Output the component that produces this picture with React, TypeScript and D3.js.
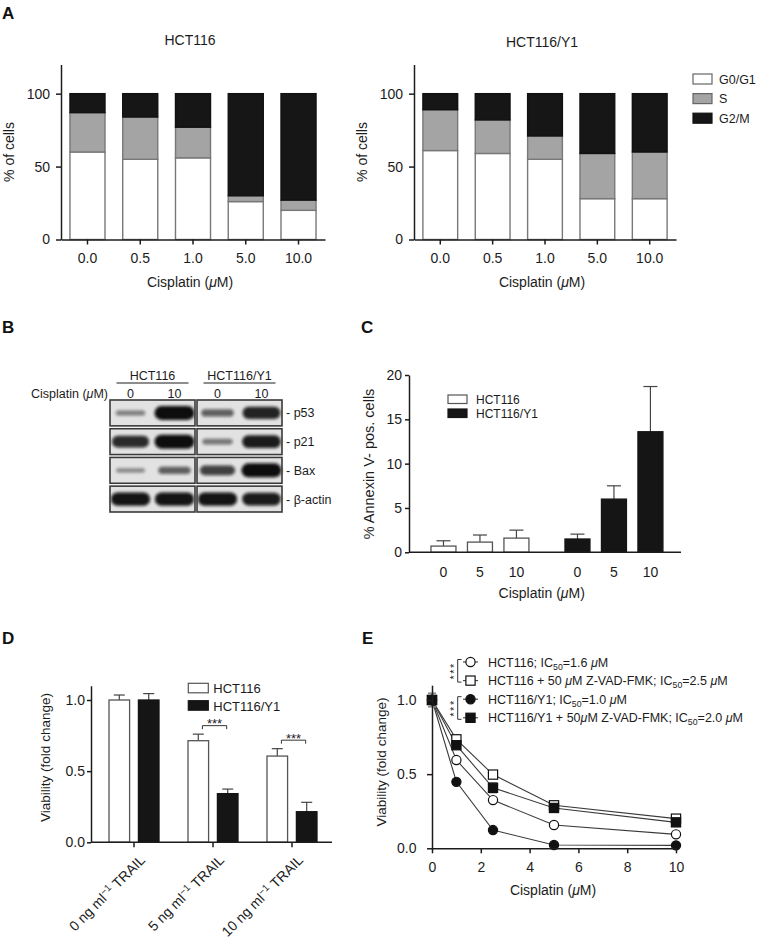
import { useEffect, useRef } from "react"
import * as d3 from "d3"

const FONT = "'Liberation Sans', Arial, Helvetica, sans-serif"
const INK = "#1c1c1c"

// A: cell cycle distribution (% of cells)
const cycleDoses = ["0.0", "0.5", "1.0", "5.0", "10.0"]
const cyclePhases = ["G0/G1", "S", "G2/M"]
const phaseColors = ["#ffffff", "#a4a4a4", "#161616"]
const hctG0 = [60, 55, 56, 26, 20]
const hctS = [27, 29, 21, 4, 7]
const hctG2 = [13, 16, 23, 70, 73]
const y1G0 = [61, 59, 55, 28, 28]
const y1S = [28, 23, 16, 31, 32]
const y1G2 = [11, 18, 29, 41, 40]
const cycleTicks = [0, 50, 100]

// B: western blot
const blotLines = ["HCT116", "HCT116/Y1"]
const blotDoses = ["0", "10"]
const blotProteins = ["p53", "p21", "Bax", "β-actin"]
// band strength per lane: HCT116 0, HCT116 10, Y1 0, Y1 10
const bandP53 = [0.25, 1, 0.45, 0.85]
const bandP21 = [0.8, 1, 0.3, 0.9]
const bandBax = [0.2, 0.45, 0.65, 1]
const bandActin = [0.95, 0.95, 0.95, 0.9]

// C: annexin V positive cells
const annexinDoses = ["0", "5", "10"]
const annexinHct = [0.7, 1.15, 1.6]
const annexinHctErr = [0.6, 0.8, 0.9]
const annexinY1 = [1.5, 6.0, 13.6]
const annexinY1Err = [0.55, 1.5, 5.1]
const annexinTicks = [0, 5, 10, 15, 20]

// D: TRAIL viability
const trailDoses = ["0", "5", "10"]
const trailHct = [1.0, 0.714, 0.606]
const trailHctErr = [0.035, 0.046, 0.052]
const trailY1 = [1.0, 0.342, 0.215]
const trailY1Err = [0.045, 0.032, 0.066]
const trailSig = ["", "***", "***"]

// E: cisplatin dose response
const cisDoses = [0, 1, 2.5, 5, 10]
const respHct = [1.0, 0.595, 0.325, 0.157, 0.094]
const respHctErr = [0.045, 0.02, 0.015, 0.01, 0.01]
const respHctZ = [1.0, 0.735, 0.497, 0.29, 0.2]
const respHctZErr = [0.045, 0.02, 0.02, 0.01, 0.01]
const respY1 = [1.0, 0.448, 0.123, 0.022, 0.02]
const respY1Err = [0.045, 0.015, 0.01, 0.005, 0.005]
const respY1Z = [1.0, 0.695, 0.408, 0.272, 0.175]
const respY1ZErr = [0.045, 0.02, 0.035, 0.015, 0.01]

type Seg = { t: string; k?: "i" | "sub" | "sup" }

const cisplatinTitle: Seg[] = [{ t: "Cisplatin (" }, { t: "μ", k: "i" }, { t: "M)" }]

const respNames: Seg[][] = [
  [{ t: "HCT116; IC" }, { t: "50", k: "sub" }, { t: "=1.6 " }, { t: "μ", k: "i" }, { t: "M" }],
  [{ t: "HCT116 + 50 " }, { t: "μ", k: "i" }, { t: "M Z-VAD-FMK; IC" }, { t: "50", k: "sub" }, { t: "=2.5 " }, { t: "μ", k: "i" }, { t: "M" }],
  [{ t: "HCT116/Y1; IC" }, { t: "50", k: "sub" }, { t: "=1.0 " }, { t: "μ", k: "i" }, { t: "M" }],
  [{ t: "HCT116/Y1 + 50" }, { t: "μ", k: "i" }, { t: "M Z-VAD-FMK; IC" }, { t: "50", k: "sub" }, { t: "=2.0 " }, { t: "μ", k: "i" }, { t: "M" }],
]

function rich(text: any, segs: Seg[]) {
  let shift = 0
  segs.forEach((s) => {
    const ts = text.append("tspan").text(s.t)
    const target = s.k === "sub" ? 3 : s.k === "sup" ? -5 : 0
    if (target !== shift) ts.attr("dy", target - shift)
    shift = target
    if (s.k === "i") ts.attr("font-style", "italic")
    if (s.k === "sub" || s.k === "sup") ts.attr("font-size", "0.7em")
  })
}

function styleAxis(g: any, size: number) {
  g.attr("font-family", FONT).attr("font-size", size).attr("color", INK)
  g.selectAll("path.domain").attr("stroke-width", 1.5)
  g.selectAll(".tick line").attr("stroke-width", 1.5)
}

export default function App() {
  const svgRef = useRef<SVGSVGElement>(null)

  useEffect(() => {
    if (!svgRef.current) return
    const svg = d3.select(svgRef.current)
    svg.selectAll("*").remove()
    svg.attr("font-family", FONT)

    const text = (x: number, y: number, s: string, size: number, anchor = "start") =>
      svg.append("text").attr("x", x).attr("y", y).attr("font-size", size)
        .attr("text-anchor", anchor).attr("fill", INK).text(s)

    const richText = (x: number, y: number, segs: Seg[], size: number, anchor = "start") => {
      const t = svg.append("text").attr("x", x).attr("y", y).attr("font-size", size)
        .attr("text-anchor", anchor).attr("fill", INK)
      rich(t, segs)
      return t
    }

    const yLabel = (cx: number, cy: number, segs: Seg[], size: number) => {
      const t = svg.append("text").attr("transform", `translate(${cx},${cy}) rotate(-90)`)
        .attr("text-anchor", "middle").attr("dy", "0.35em").attr("font-size", size).attr("fill", INK)
      rich(t, segs)
    }

    const panelLetter = (x: number, y: number, s: string) =>
      text(x, y, s, 17).attr("font-weight", "bold").attr("fill", "#111")

    // ---------- A ----------
    panelLetter(2, 18.5, "A")
    const cyclePanel = (left: number, right: number, title: string, titleY: number,
                        g0: number[], s: number[], g2: number[], yLabelX: number) => {
      const y = d3.scaleLinear().domain([0, 120]).range([239.5, 64.5])
      const x = d3.scaleBand<string>().domain(cycleDoses).range([left, right])
        .paddingInner(0.336).paddingOuter(0.17)
      const rows = cycleDoses.map((d, i) => ({ dose: d, "G0/G1": g0[i], S: s[i], "G2/M": g2[i] }))
      const series = d3.stack<any>().keys(cyclePhases)(rows)
      series.forEach((ser, k) => {
        svg.append("g").selectAll("rect").data(ser).join("rect")
          .attr("x", (d: any) => x(d.data.dose)!)
          .attr("width", x.bandwidth())
          .attr("y", (d: any) => y(d[1]))
          .attr("height", (d: any) => y(d[0]) - y(d[1]))
          .attr("fill", phaseColors[k])
          .attr("stroke", k === 2 ? "#111" : "#787878")
          .attr("stroke-width", 1.4)
      })
      const ay = svg.append("g").attr("transform", `translate(${left},0)`)
        .call(d3.axisLeft(y).tickValues(cycleTicks).tickSize(5).tickPadding(6).tickSizeOuter(0))
      styleAxis(ay, 14)
      const ax = svg.append("g").attr("transform", `translate(0,${y(0)})`)
        .call(d3.axisBottom(x).tickSize(5).tickPadding(9).tickSizeOuter(0))
      styleAxis(ax, 14)
      const mid = (left + right) / 2 - 3
      text(mid, titleY, title, 14, "middle")
      richText(mid, 286.5, cisplatinTitle, 14, "middle")
      yLabel(yLabelX, 152, [{ t: "% of cells" }], 14)
    }
    cyclePanel(61, 325, "HCT116", 44.5, hctG0, hctS, hctG2, 9.5)
    cyclePanel(414, 676, "HCT116/Y1", 46.5, y1G0, y1S, y1G2, 362.5)

    cyclePhases.forEach((p, k) => {
      svg.append("rect").attr("x", 693).attr("y", 74 + k * 19.6).attr("width", 19).attr("height", 10)
        .attr("fill", phaseColors[k]).attr("stroke", k === 2 ? "#111" : "#666").attr("stroke-width", 1.2)
      text(719, 83.5 + k * 19.6, p, 12.5)
    })

    // ---------- B ----------
    panelLetter(2, 333, "B")
    const defs = svg.append("defs")
    defs.append("filter").attr("id", "bandBlur")
      .attr("x", "-40%").attr("y", "-150%").attr("width", "180%").attr("height", "400%")
      .append("feGaussianBlur").attr("stdDeviation", 1.6)

    const bands = [bandP53, bandP21, bandBax, bandActin]
    const panelX = d3.scaleBand<string>().domain(blotLines).range([110, 282]).paddingInner(0.023)
    const laneX = d3.scalePoint<string>().domain(blotDoses).range([0, panelX.bandwidth()]).padding(0.466)
    const rowY = d3.scaleBand<string>().domain(blotProteins).range([400, 512]).paddingInner(0.1)

    blotProteins.forEach((prot, r) => {
      const ry = rowY(prot)!
      const cy = ry + rowY.bandwidth() / 2
      blotLines.forEach((ln, li) => {
        const px = panelX(ln)!
        svg.append("rect").attr("x", px).attr("y", ry).attr("width", panelX.bandwidth())
          .attr("height", rowY.bandwidth()).attr("fill", "#e2e2e2")
        blotDoses.forEach((d, di) => {
          const v = bands[r][li * 2 + di]
          const w = 26 + 14 * v
          const h = 2 + 12 * v
          const cx = px + laneX(d)!
          svg.append("rect").attr("x", cx - w / 2).attr("y", cy - h / 2).attr("width", w).attr("height", h)
            .attr("rx", h / 2).attr("fill", "#0a0a0a").attr("opacity", 0.3 + 0.7 * v)
            .attr("filter", "url(#bandBlur)")
        })
        svg.append("rect").attr("x", px).attr("y", ry).attr("width", panelX.bandwidth())
          .attr("height", rowY.bandwidth()).attr("fill", "none").attr("stroke", "#3a3a3a").attr("stroke-width", 1.6)
      })
      text(286, cy + 4.5, "- " + prot, 12.5)
    })
    blotLines.forEach((ln) => {
      const pc = panelX(ln)! + panelX.bandwidth() / 2
      text(pc, 380.3, ln, 12.5, "middle")
      svg.append("line").attr("x1", pc - 36).attr("x2", pc + 36).attr("y1", 383).attr("y2", 383)
        .attr("stroke", INK).attr("stroke-width", 1.2)
      blotDoses.forEach((d) => text(panelX(ln)! + laneX(d)!, 398, d, 12.5, "middle"))
    })
    richText(108, 398, cisplatinTitle, 12.5, "end")

    // ---------- C ----------
    panelLetter(361, 333, "C")
    const yC = d3.scaleLinear().domain([0, 20]).range([552.3, 375])
    const gC = d3.scaleBand<string>().domain(blotLines).range([409, 684.9]).paddingInner(0.269).paddingOuter(0.164)
    const dC = d3.scaleBand<string>().domain(annexinDoses).range([0, gC.bandwidth()]).paddingInner(0.315)
    const cVals = [annexinHct, annexinY1]
    const cErr = [annexinHctErr, annexinY1Err]
    blotLines.forEach((ln, li) => {
      annexinDoses.forEach((d, i) => {
        const x0 = gC(ln)! + dC(d)!
        const cx = x0 + dC.bandwidth() / 2
        const v = cVals[li][i]
        const e = cErr[li][i]
        svg.append("line").attr("x1", cx).attr("x2", cx).attr("y1", yC(v)).attr("y2", yC(v + e))
          .attr("stroke", "#444").attr("stroke-width", 1.2)
        svg.append("line").attr("x1", cx - 7).attr("x2", cx + 7).attr("y1", yC(v + e)).attr("y2", yC(v + e))
          .attr("stroke", "#444").attr("stroke-width", 1.2)
        svg.append("rect").attr("x", x0).attr("y", yC(v)).attr("width", dC.bandwidth())
          .attr("height", yC(0) - yC(v))
          .attr("fill", li ? "#151515" : "#fff").attr("stroke", li ? "#151515" : "#555").attr("stroke-width", 1.3)
        text(cx, 576.7, d, 14, "middle")
      })
    })
    const ayC = svg.append("g").attr("transform", "translate(409,0)")
      .call(d3.axisLeft(yC).tickValues(annexinTicks).tickSize(4).tickPadding(3).tickSizeOuter(0))
    styleAxis(ayC, 14)
    svg.append("line").attr("x1", 409).attr("x2", 681).attr("y1", yC(0)).attr("y2", yC(0))
      .attr("stroke", INK).attr("stroke-width", 1.5)
    blotLines.forEach((ln, li) => {
      svg.append("rect").attr("x", 448).attr("y", 395 + li * 14).attr("width", 19).attr("height", 8.5)
        .attr("fill", li ? "#151515" : "#fff").attr("stroke", li ? "#151515" : "#555").attr("stroke-width", 1.2)
      text(476, 403.8 + li * 14, ln, 12)
    })
    richText(541.7, 598, cisplatinTitle, 14, "middle")
    yLabel(369, 464, [{ t: "% Annexin V- pos. cells" }], 14.5)

    // ---------- D ----------
    panelLetter(2, 644, "D")
    const yD = d3.scaleLinear().domain([0, 1.1]).range([842.3, 842.3 - 1.1 * 142.3])
    const gD = d3.scaleBand<string>().domain(trailDoses).range([92.5, 333.5]).paddingInner(0.367).paddingOuter(0.209)
    const sD = d3.scaleBand<string>().domain(blotLines).range([0, gD.bandwidth()]).paddingInner(0.3)
    const dVals = [trailHct, trailY1]
    const dErr = [trailHctErr, trailY1Err]
    trailDoses.forEach((d, i) => {
      blotLines.forEach((ln, li) => {
        const x0 = gD(d)! + sD(ln)!
        const cx = x0 + sD.bandwidth() / 2
        const v = dVals[li][i]
        const e = dErr[li][i]
        svg.append("line").attr("x1", cx).attr("x2", cx).attr("y1", yD(v)).attr("y2", yD(v + e))
          .attr("stroke", "#444").attr("stroke-width", 1.2)
        svg.append("line").attr("x1", cx - 5.5).attr("x2", cx + 5.5).attr("y1", yD(v + e)).attr("y2", yD(v + e))
          .attr("stroke", "#444").attr("stroke-width", 1.2)
        svg.append("rect").attr("x", x0).attr("y", yD(v)).attr("width", sD.bandwidth())
          .attr("height", yD(0) - yD(v))
          .attr("fill", li ? "#151515" : "#fff").attr("stroke", li ? "#151515" : "#555").attr("stroke-width", 1.3)
      })
      const gc = gD(d)! + gD.bandwidth() / 2
      svg.append("line").attr("x1", gc).attr("x2", gc).attr("y1", yD(0)).attr("y2", yD(0) + 5)
        .attr("stroke", INK).attr("stroke-width", 1.5)
      const lab = svg.append("text").attr("transform", `translate(${gc + 12},861) rotate(-45)`)
        .attr("text-anchor", "end").attr("font-size", 14).attr("fill", INK)
      rich(lab, [{ t: d + " ng ml" }, { t: "−1", k: "sup" }, { t: " TRAIL" }])
      if (trailSig[i]) {
        const wx = gD(d)! + sD(blotLines[0])! + sD.bandwidth() * 0.7
        const bx = gD(d)! + sD(blotLines[1])! + sD.bandwidth() * 0.45
        const by = yD(dVals[0][i] + dErr[0][i]) - 8.5
        svg.append("path").attr("d", `M${wx},${by + 3.5}V${by}H${bx}V${by + 3.5}`)
          .attr("fill", "none").attr("stroke", "#333").attr("stroke-width", 1)
        text((wx + bx) / 2, by + 2.5, trailSig[i], 13, "middle")
      }
    })
    const ayD = svg.append("g").attr("transform", "translate(91,0)")
      .call(d3.axisLeft(yD).tickValues([0, 0.5, 1]).tickFormat(d3.format(".1f")).tickSize(4).tickPadding(2).tickSizeOuter(0))
    styleAxis(ayD, 14)
    svg.append("line").attr("x1", 91).attr("x2", 332).attr("y1", yD(0)).attr("y2", yD(0))
      .attr("stroke", INK).attr("stroke-width", 1.5)
    blotLines.forEach((ln, li) => {
      svg.append("rect").attr("x", 188.3).attr("y", 683.3 + li * 17.4).attr("width", 20).attr("height", 9.5)
        .attr("fill", li ? "#151515" : "#fff").attr("stroke", li ? "#151515" : "#555").attr("stroke-width", 1.2)
      text(213.3, 693.3 + li * 17.4, ln, 13)
    })
    yLabel(45, 757.5, [{ t: "Viability (fold change)" }], 13.5)

    // ---------- E ----------
    panelLetter(362, 644, "E")
    const xE = d3.scaleLinear().domain([0, 10]).range([432, 676])
    const yE = d3.scaleLinear().domain([0, 1.1]).range([848.3, 848.3 - 1.1 * 148.3])
    const eSeries = [respHct, respHctZ, respY1, respY1Z]
    const eErrs = [respHctErr, respHctZErr, respY1Err, respY1ZErr]
    const eShape = ["circle", "square", "circle", "square"]
    const eFilled = [false, false, true, true]
    const marker = (x: number, y: number, k: number) => {
      const m = eShape[k] === "circle"
        ? svg.append("circle").attr("cx", x).attr("cy", y).attr("r", 4.6)
        : svg.append("rect").attr("x", x - 4.6).attr("y", y - 4.6).attr("width", 9.2).attr("height", 9.2)
      m.attr("fill", eFilled[k] ? "#111" : "#fff").attr("stroke", "#111").attr("stroke-width", 1.2)
    }
    const line = d3.line<number>().x((_, i) => xE(cisDoses[i])).y((v) => yE(v))
    eSeries.forEach((ser) => {
      svg.append("path").attr("d", line(ser)!).attr("fill", "none").attr("stroke", "#3a3a3a").attr("stroke-width", 1.1)
    })
    eSeries.forEach((ser, k) => {
      ser.forEach((v, i) => {
        const e = eErrs[k][i]
        const x = xE(cisDoses[i])
        svg.append("path").attr("d", `M${x - 4},${yE(v + e)}H${x + 4}M${x},${yE(v + e)}V${yE(v - e)}M${x - 4},${yE(v - e)}H${x + 4}`)
          .attr("fill", "none").attr("stroke", "#888").attr("stroke-width", 1)
      })
    })
    eSeries.forEach((ser, k) => ser.forEach((v, i) => marker(xE(cisDoses[i]), yE(v), k)))

    const ayE = svg.append("g").attr("transform", "translate(432,0)")
      .call(d3.axisLeft(yE).tickValues([0, 0.5, 1]).tickFormat(d3.format(".1f")).tickSize(5).tickPadding(10.5).tickSizeOuter(0))
    styleAxis(ayE, 14)
    const axE = svg.append("g").attr("transform", `translate(0,${yE(0)})`)
      .call(d3.axisBottom(xE).tickValues([0, 2, 4, 6, 8, 10]).tickSize(5).tickPadding(8.5).tickSizeOuter(0))
    styleAxis(axE, 14)
    richText(553, 895, cisplatinTitle, 14, "middle")
    yLabel(381, 762, [{ t: "Viability (fold change)" }], 13.5)

    // legend
    const legY = (i: number) => 662 + i * 18.6
    respNames.forEach((segs, k) => {
      const ly = legY(k)
      svg.append("line").attr("x1", 463).attr("x2", 478).attr("y1", ly).attr("y2", ly)
        .attr("stroke", "#3a3a3a").attr("stroke-width", 1.1)
      marker(470.5, ly, k)
      richText(488, ly + 4.5, segs, 12.5)
    })
    ;[[0, 1], [2, 3]].forEach(([a, b]) => {
      const t = legY(a) - 2.5
      const btm = legY(b) + 1.5
      svg.append("path").attr("d", `M461.5,${t}H457.7V${btm}H461.5`)
        .attr("fill", "none").attr("stroke", "#333").attr("stroke-width", 1)
      svg.append("text").attr("transform", `translate(457.5,${(t + btm) / 2}) rotate(-90)`)
        .attr("text-anchor", "middle").attr("font-size", 11).attr("letter-spacing", 1.5)
        .attr("fill", INK).text("***")
    })
  }, [])

  return (
    <svg ref={svgRef} width={757} height={940}
      style={{ position: "absolute", left: 0, top: 0, background: "#fff" }} />
  )
}
